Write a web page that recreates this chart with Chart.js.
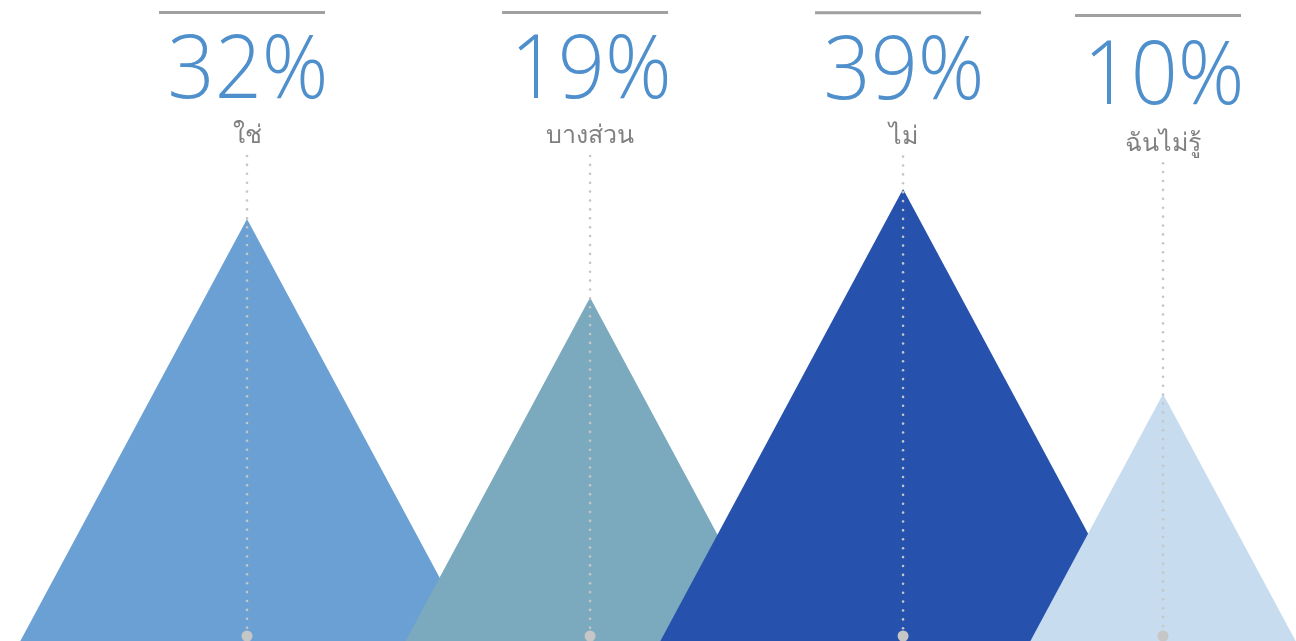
<!DOCTYPE html>
<html>
<head>
<meta charset="utf-8">
<script src="https://cdn.jsdelivr.net/npm/chart.js@4.4.0/dist/chart.umd.min.js"></script>
<style>
html,body{margin:0;padding:0;background:#fff;overflow:hidden;}
#wrap{position:relative;width:1296px;height:641px;}
</style>
</head>
<body>
<div id="wrap"><canvas id="c"></canvas></div>
<script>
// ---- data ----
const categories = ['ใช่', 'บางส่วน', 'ไม่', 'ฉันไม่รู้'];
const values = [32, 19, 39, 10];
const valueLabels = ['32%', '19%', '39%', '10%'];

// ---- style / layout ----
const colors = ['#6aa0d3', '#7ba9bd', '#2651ad', '#c7dcef'];
const layoutCfg = {
  centers: [0.1906, 0.4553, 0.6968, 0.8974],   // peak x as fraction of plot width
  labelShift: [0, 0, 0.5, 6],                  // small vertical nudges of the header blocks
  slope: 0.537,                                 // half-base / height of each mountain
  pctColor: '#4e8fcc',
  catColor: '#808080',
  ruleColor: '#a0a0a0',
  dotColor: '#c6c6c6'
};

const mountains = {
  id: 'mountains',
  beforeDatasetsDraw(chart) {
    const {ctx, chartArea} = chart;
    const meta = chart.getDatasetMeta(0);
    const w = chartArea.right - chartArea.left;
    meta.data.forEach((bar, i) => {
      const cx = chartArea.left + layoutCfg.centers[i] * w;
      const top = bar.y, base = bar.base;
      const hw = (base - top) * layoutCfg.slope;
      ctx.save();
      ctx.beginPath();
      ctx.moveTo(cx - hw, base);
      ctx.lineTo(cx, top);
      ctx.lineTo(cx + hw, base);
      ctx.closePath();
      ctx.fillStyle = colors[i];
      ctx.fill();
      ctx.restore();
    });
  },
  afterDatasetsDraw(chart) {
    const {ctx, chartArea} = chart;
    const meta = chart.getDatasetMeta(0);
    const w = chartArea.right - chartArea.left;
    meta.data.forEach((bar, i) => {
      const cx = chartArea.left + layoutCfg.centers[i] * w;
      const dy = layoutCfg.labelShift[i];
      ctx.save();
      // top rule
      ctx.strokeStyle = layoutCfg.ruleColor;
      ctx.lineWidth = 3;
      ctx.beginPath();
      ctx.moveTo(cx - 88, 12.5 + dy * 0.5);
      ctx.lineTo(cx + 78, 12.5 + dy * 0.5);
      ctx.stroke();
      // percentage
      ctx.fillStyle = layoutCfg.pctColor;
      ctx.font = '350 88px "Open Sans", "Noto Sans", sans-serif';
      ctx.textAlign = 'center';
      ctx.textBaseline = 'alphabetic';
      ctx.fillText(valueLabels[i], cx + 1, 98 + dy, 161);
      // category
      ctx.fillStyle = layoutCfg.catColor;
      ctx.font = '300 25px "Noto Sans", "Open Sans", sans-serif';
      ctx.fillText(categories[i], cx, 143 + dy * 1.3);
      // dotted guide
      ctx.fillStyle = layoutCfg.dotColor;
      const y0 = 156 + dy * 1.2, y1 = chartArea.bottom - 10;
      for (let y = y0; y <= y1; y += 8.9) {
        ctx.beginPath();
        ctx.arc(cx, y, 1.3, 0, Math.PI * 2);
        ctx.fill();
      }
      ctx.beginPath();
      ctx.arc(cx, chartArea.bottom - 5, 5.5, 0, Math.PI * 2);
      ctx.fill();
      ctx.restore();
    });
  }
};

new Chart(document.getElementById('c'), {
  type: 'bar',
  data: {
    labels: categories,
    datasets: [{
      data: values,
      backgroundColor: 'rgba(0,0,0,0)',
      borderWidth: 0
    }]
  },
  options: {
    responsive: true,
    maintainAspectRatio: false,
    animation: false,
    layout: {padding: 0},
    plugins: {legend: {display: false}, tooltip: {enabled: false}},
    scales: {
      x: {display: false},
      y: {type: 'logarithmic', display: false, min: 1.94, max: 136.9, bounds: 'data'}
    }
  },
  plugins: [mountains]
});
</script>
</body>
</html>
